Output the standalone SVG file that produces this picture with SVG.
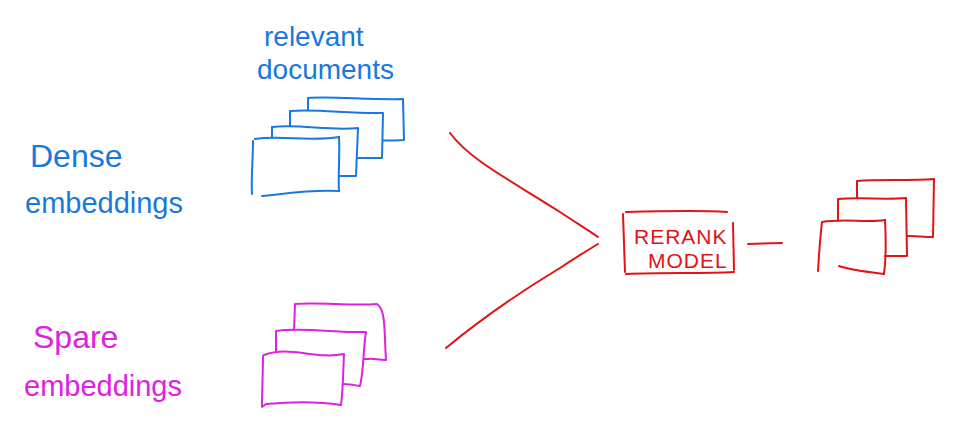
<svg xmlns="http://www.w3.org/2000/svg" width="955" height="433" viewBox="0 0 955 433">
<style>
.b{stroke:#1878e0}
.m{stroke:#dd22dd}
.r{stroke:#e01414}
.d{fill:#fff;stroke-width:2;stroke-linejoin:round;stroke-linecap:round}
.c{fill:none;stroke-width:2;stroke-linecap:round}
.f{fill:#fff;stroke:none}
.t{font-family:"Liberation Sans",Arial,sans-serif}
</style>
<rect width="955" height="433" fill="#fff"/>
<g id="label-relevant" class="t" fill="#1878e0" font-size="28">
<text x="264" y="46">relevant</text>
<text x="257" y="79">documents</text>
</g>
<g id="label-dense" class="t" fill="#1878e0">
<text x="30" y="167" font-size="32">Dense</text>
<text x="25" y="213" font-size="29">embeddings</text>
</g>
<g id="label-sparse" class="t" fill="#dd22dd">
<text x="33" y="348" font-size="32">Spare</text>
<text x="24" y="396" font-size="29">embeddings</text>
</g>
<g id="dense-docs">
<path class="d b" d="M308,98 C330,96 370,100 403,99 L404,140 C390,141 370,140 356,141 L308,140 Z"/>
<path class="d b" d="M290,111 C320,109 350,114 383,113 L382,158 C370,158 360,158 356,158 L290,158 Z"/>
<path class="d b" d="M272,127 C300,124 330,131 358,128 L356,176 C350,176 344,176 339,176 L272,176 Z"/>
<path class="f" d="M255,139 C280,135 310,142 339,137 L339,191 L262,196 L253,194 Z"/>
<path class="c b" d="M255,139 C280,135 310,142 339,137 C340,155 338,175 339,191 C310,189 285,194 262,196 M253,141 C253,160 251,178 252,194"/>
</g>
<g id="sparse-docs">
<path class="d m" d="M295,304 C320,302 350,306 377,304 C386,310 384,330 386,360 C378,360 372,358 368,359 L293,359 Z"/>
<path class="d m" d="M276,331 C300,327 340,333 366,332 C363,350 364,370 360,386 C354,385 348,384 344,384 L276,384 Z"/>
<path class="d m" d="M264,355 C290,345 315,360 344,354 C343,375 343,390 341,405 C315,401 290,402 266,404 L262,407 C262,390 263,370 263,356 Z"/>
</g>
<g id="rerank-model">
<path class="c r" d="M626,212 C660,211 700,210 727,212 M623,214 L625,272 M733,223 L734,270 M626,274 C665,272 700,274 734,272"/>
<text class="t" x="634" y="244" font-size="21" fill="#e01414" letter-spacing="1">RERANK</text>
<text class="t" x="648" y="268" font-size="21" fill="#e01414" letter-spacing="1">MODEL</text>
</g>
<g id="reranked-docs">
<path class="d r" d="M857,181 C880,179 910,181 934,179 L933,237 C925,237 915,236 908,236 L857,236 Z"/>
<path class="d r" d="M838,199 C860,197 885,200 906,198 L907,256 C900,256 892,256 887,256 L838,256 Z"/>
<path class="f" d="M822,222 C845,218 865,223 885,220 L884,274 L839,266 L818,271 Z"/>
<path class="c r" d="M822,222 C845,218 865,223 885,220 C886,240 886,260 884,274 C868,272 850,270 839,266 M822,222 C820,238 819,255 818,271"/>
</g>
<g id="connectors" class="c r">
<path d="M450,133 C470,160 510,180 560,212 C575,222 588,230 598,237"/>
<path d="M446,348 C480,320 520,292 560,268 C575,258 588,250 598,244"/>
<path d="M748,244 L782,243"/>
</g>
</svg>
